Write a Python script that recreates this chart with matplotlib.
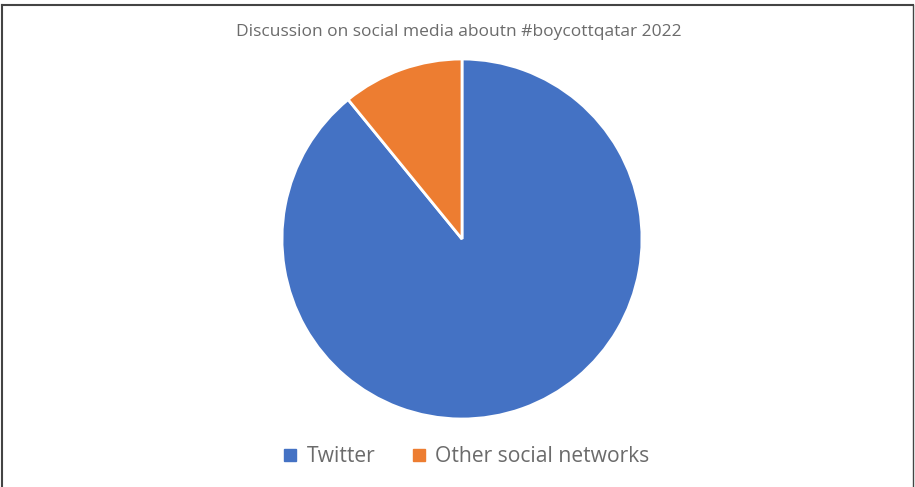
import matplotlib.pyplot as plt
from matplotlib.patches import Patch

labels = ["Twitter", "Other social networks"]
shares = [89.1, 10.9]
colors = ["#4472C4", "#ED7D31"]
title = "Discussion on social media aboutn #boycottqatar 2022"

plt.rcParams["font.family"] = ["Open Sans", "DejaVu Sans"]

fig = plt.figure(figsize=(9.15, 4.87), dpi=100)

# chart border (top, left, right)
fig.add_artist(plt.Line2D([2 / 915, 2 / 915], [0, 1 - 5 / 487], color="#444444", lw=1.5))
fig.add_artist(plt.Line2D([2 / 915, 913 / 915], [1 - 5 / 487, 1 - 5 / 487], color="#444444", lw=1.5))
fig.add_artist(plt.Line2D([913 / 915, 913 / 915], [0, 1 - 5 / 487], color="#444444", lw=1.0))

ax = fig.add_axes([(462 - 180) / 915, (248 - 180) / 487, 360 / 915, 360 / 487])
ax.pie(shares, colors=colors, startangle=90, counterclock=False,
       wedgeprops=dict(edgecolor="white", linewidth=2))
ax.set_xlim(-1.0, 1.0)
ax.set_ylim(-1.0, 1.0)
ax.set_aspect("equal")

fig.text(459 / 915, 1 - 32 / 487, title, ha="center", va="center",
         fontsize=12.5, color="#6b6b6b")

handles = [Patch(color=c, label=l) for c, l in zip(colors, labels)]
fig.legend(handles=handles, loc="center", bbox_to_anchor=(467 / 915, 1 - 457 / 487),
           ncol=2, frameon=False, fontsize=15.2, labelcolor="#6b6b6b",
           handlelength=0.55, handleheight=0.55, handletextpad=0.5, columnspacing=1.8)

fig.savefig("out.png", dpi=100)
